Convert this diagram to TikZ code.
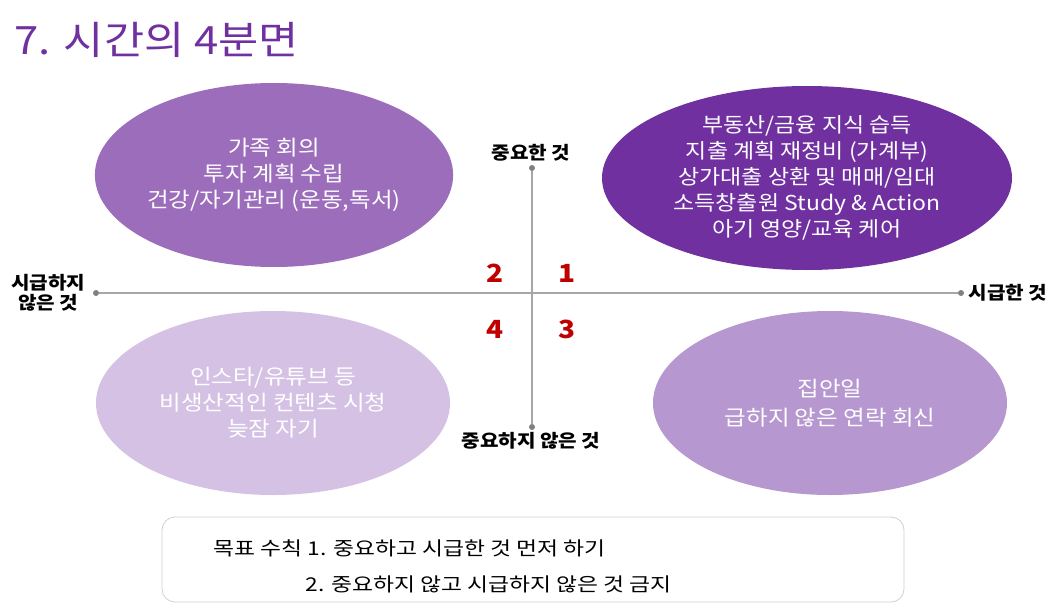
\documentclass[tikz,border=0pt]{standalone}
\usepackage{fontspec}
\setmainfont[FakeStretch=1.12]{Noto Sans CJK KR}
\newfontfamily\rulefont[FakeStretch=1.2]{Noto Sans CJK KR}
\usetikzlibrary{shapes}

\definecolor{titlepurple}{HTML}{7030A0}
\definecolor{blobone}{HTML}{7030A0}
\definecolor{blobtwo}{HTML}{9B6DBB}
\definecolor{blobthree}{HTML}{B697CF}
\definecolor{blobfour}{HTML}{D4C1E4}
\definecolor{axisgray}{HTML}{A6A6A6}
\definecolor{axisdot}{HTML}{808080}
\definecolor{numred}{HTML}{C00000}
\definecolor{boxgray}{HTML}{D0D0D0}

\begin{document}
\begin{tikzpicture}[x=1pt,y=-1pt]
    \tikzstyle{blob}=[ellipse,minimum width=354pt,minimum height=184pt,inner sep=0pt,text=white,align=center,font=\fontsize{21}{26}\selectfont]
    \tikzstyle{enddot}=[circle,fill=axisdot,minimum size=6pt,inner sep=0pt]
    \tikzstyle{axislabel}=[font=\fontsize{18}{20}\selectfont\bfseries,align=center]
    \tikzstyle{quad}=[text=numred,font=\fontsize{25}{25}\selectfont\bfseries]
    \useasboundingbox (0,0) rectangle (1056,604);
    % title
    \node[anchor=west,text=titlepurple,font=\fontsize{39}{39}\selectfont] (title) at (11,40) {7. 시간의 4분면};
    % quadrants
    \node[blob,fill=blobtwo] (q_2) at (274,175) {가족 회의\\투자 계획 수립\\건강/자기관리 (운동,독서)};
    \node[blob,fill=blobone,minimum width=410pt,font=\fontsize{20.5}{26}\selectfont] (q_1) at (807,178) {부동산/금융 지식 습득\\지출 계획 재정비 (가계부)\\상가대출 상환 및 매매/임대\\소득창출원 Study \& Action\\아기 영양/교육 케어};
    \node[blob,fill=blobfour] (q_4) at (273,403) {인스타/유튜브 등\\비생산적인 컨텐츠 시청\\늦잠 자기};
    \node[blob,fill=blobthree,font=\fontsize{21}{29}\selectfont] (q_3) at (830,403) {집안일\\급하지 않은 연락 회신};
    % axes
    \node[enddot] (a_l) at (96,293) {};
    \node[enddot] (a_r) at (961,293) {};
    \node[enddot] (a_t) at (532,168) {};
    \node[enddot] (a_b) at (532,427) {};
    \draw[axisgray,line width=1.3pt] (a_l) -- (a_r);
    \draw[axisgray,line width=1.3pt] (a_t) -- (a_b);
    \node[axislabel,anchor=east] (l_l) at (89,293) {시급하지\\않은 것};
    \node[axislabel,anchor=west] (l_r) at (965,293) {시급한 것};
    \node[axislabel] (l_t) at (531,153) {중요한 것};
    \node[axislabel] (l_b) at (531,441) {중요하지 않은 것};
    \node[quad] (n_2) at (495,273) {2};
    \node[quad] (n_1) at (567,273) {1};
    \node[quad] (n_4) at (495,329) {4};
    \node[quad] (n_3) at (567,329) {3};
    % rule box
    \draw[boxgray,line width=0.8pt,rounded corners=13pt] (162,517) rectangle (904,602);
    \node[anchor=west,font=\rulefont\fontsize{19}{19}\selectfont] (rule_1) at (210,548) {목표 수칙 1. 중요하고 시급한 것 먼저 하기};
    \node[anchor=west,font=\rulefont\fontsize{19}{19}\selectfont] (rule_2) at (302,584) {2. 중요하지 않고 시급하지 않은 것 금지};
\end{tikzpicture}
\end{document}
